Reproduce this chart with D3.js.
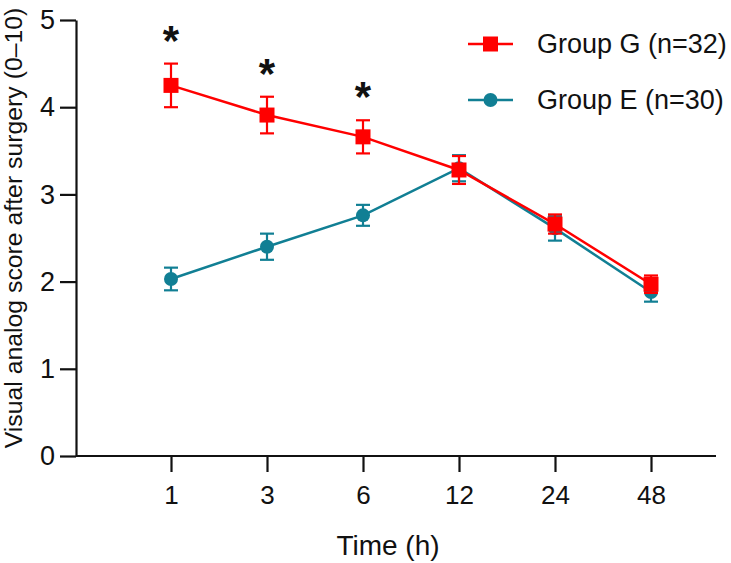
<!DOCTYPE html>
<html>
<head>
<meta charset="utf-8">
<script src="https://cdn.jsdelivr.net/npm/d3@7"></script>
<style>
  body { margin: 0; background: #fff; }
  svg text { font-family: Arial, "Liberation Sans", sans-serif; fill: #111; }
</style>
</head>
<body>
<div class="plot"></div>
<script>
// time points (h)
let timeLabels = ["1", "3", "6", "12", "24", "48"];

// Group G (n=32): mean and SEM
let groupG = [4.25, 3.91, 3.66, 3.28, 2.66, 1.97];
let groupGErr = [0.25, 0.21, 0.19, 0.16, 0.11, 0.10];

// Group E (n=30)
let groupE = [2.03, 2.40, 2.76, 3.30, 2.61, 1.88];
let groupEErr = [0.13, 0.15, 0.12, 0.15, 0.14, 0.11];

// which time points are significant
let significant = [true, true, true, false, false, false];

let yTicks = [0, 1, 2, 3, 4, 5];

let width = 731, height = 563;
let RED = "#ff0000", TEAL = "#117f94";

let svg = d3.select(".plot")
    .append("svg")
    .attr("width", width)
    .attr("height", height);

var xScale = d3.scalePoint()
    .domain(timeLabels)
    .range([171, 651]);

var yScale = d3.scaleLinear()
    .domain([0, 5])
    .range([456, 20]);

// y axis
var yAxis = d3.axisLeft(yScale)
    .tickValues(yTicks)
    .tickFormat(d3.format("d"))
    .tickSize(16)
    .tickPadding(5)
    .tickSizeOuter(0);

svg.append("g")
    .attr("class", "y-axis")
    .attr("transform", "translate(76,0)")
    .call(yAxis);

// x axis
var xAxis = d3.axisBottom(xScale)
    .tickSize(16)
    .tickPadding(14)
    .tickSizeOuter(0);

let gx = svg.append("g")
    .attr("class", "x-axis")
    .attr("transform", "translate(0,456)")
    .call(xAxis);
gx.select(".domain").remove();
gx.append("line")
    .attr("x1", 76).attr("x2", 716)
    .attr("y1", 0).attr("y2", 0)
    .attr("stroke", "#111").attr("stroke-width", 2.2);

svg.selectAll(".y-axis path, .y-axis line, .x-axis .tick line")
    .attr("stroke", "#111")
    .attr("stroke-width", 2.2);
svg.selectAll(".y-axis text")
    .style("font-size", "27px");
svg.selectAll(".x-axis text")
    .style("font-size", "26px");

// axis titles
svg.append("text")
    .attr("transform", "translate(22,228) rotate(-90)")
    .attr("text-anchor", "middle")
    .style("font-size", "24.8px")
    .text("Visual analog score after surgery (0\u201310)");

svg.append("text")
    .attr("x", 388)
    .attr("y", 555)
    .attr("text-anchor", "middle")
    .style("font-size", "28px")
    .text("Time (h)");

function renderSeries(values, errs, color, shape) {
    let g = svg.append("g");

    let line = d3.line()
        .x((d, i) => xScale(timeLabels[i]))
        .y(d => yScale(d));

    g.append("path")
        .datum(values)
        .attr("d", line)
        .attr("fill", "none")
        .attr("stroke", color)
        .attr("stroke-width", 2.5);

    values.forEach((v, i) => {
        let x = xScale(timeLabels[i]);
        let yTop = yScale(v + errs[i]), yBot = yScale(v - errs[i]);
        g.append("line")
            .attr("x1", x).attr("x2", x)
            .attr("y1", yTop).attr("y2", yBot)
            .attr("stroke", color).attr("stroke-width", 2.2);
        [yTop, yBot].forEach(y => {
            g.append("line")
                .attr("x1", x - 7).attr("x2", x + 7)
                .attr("y1", y).attr("y2", y)
                .attr("stroke", color).attr("stroke-width", 2.2);
        });
        if (shape === "square") {
            g.append("rect")
                .attr("x", x - 7.5).attr("y", yScale(v) - 7.5)
                .attr("width", 15).attr("height", 15)
                .attr("fill", color);
        } else {
            g.append("circle")
                .attr("cx", x).attr("cy", yScale(v))
                .attr("r", 7)
                .attr("fill", color);
        }
    });
}

// teal drawn first so red sits on top
renderSeries(groupE, groupEErr, TEAL, "circle");
renderSeries(groupG, groupGErr, RED, "square");

// asterisks
significant.forEach((s, i) => {
    if (!s) return;
    svg.append("text")
        .attr("x", xScale(timeLabels[i]))
        .attr("y", yScale(groupG[i] + groupGErr[i]) - 9)
        .attr("text-anchor", "middle")
        .style("font-size", "42px")
        .style("font-weight", "bold")
        .text("*");
});

// legend
function addLegendItem(y, color, shape, label) {
    let g = svg.append("g");
    g.append("line")
        .attr("x1", 468).attr("x2", 513)
        .attr("y1", y).attr("y2", y)
        .attr("stroke", color).attr("stroke-width", 2.5);
    if (shape === "square") {
        g.append("rect")
            .attr("x", 490.5 - 7.5).attr("y", y - 7.5)
            .attr("width", 15).attr("height", 15)
            .attr("fill", color);
    } else {
        g.append("circle")
            .attr("cx", 490.5).attr("cy", y).attr("r", 7)
            .attr("fill", color);
    }
    g.append("text")
        .attr("x", 537)
        .attr("y", y + 9)
        .style("font-size", "27px")
        .text(label);
}

addLegendItem(44, RED, "square", "Group G (n=32)");
addLegendItem(100, TEAL, "circle", "Group E (n=30)");
</script>
</body>
</html>
